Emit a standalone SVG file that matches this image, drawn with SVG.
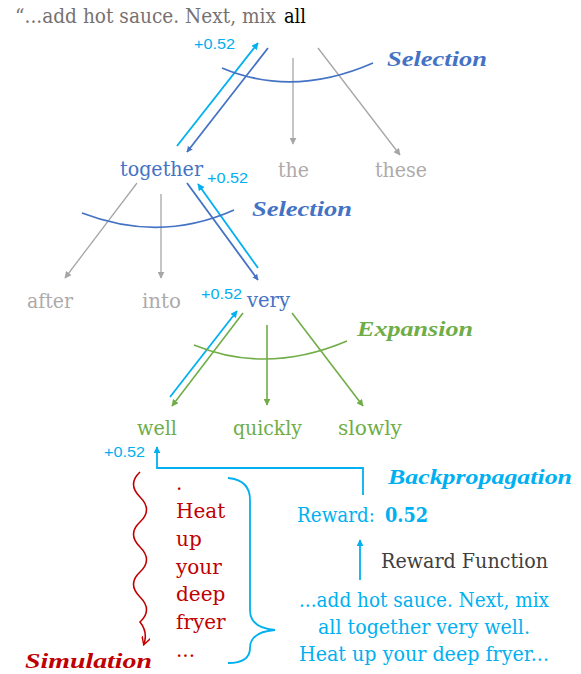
<svg xmlns="http://www.w3.org/2000/svg" width="581" height="674" viewBox="0 0 581 674">
<style>
.w{font-family:"DejaVu Serif","Liberation Serif",serif;font-size:20px}
.n{font-family:"Liberation Sans","Open Sans",sans-serif;font-size:15px;fill:#00B0F0}
.lab{font-family:"Liberation Serif",serif;font-style:italic;font-weight:bold;font-size:20px}
.blue{fill:#4472C4}.gray{fill:#AEAAAA}.green{fill:#70AD47}.red{fill:#C00000}.cyan{fill:#00B0F0}
.lb{stroke:#4472C4;stroke-width:1.8;fill:none}
.lc{stroke:#00B0F0;stroke-width:1.8;fill:none}
.lg{stroke:#A6A6A6;stroke-width:1.3;fill:none}
.lgr{stroke:#70AD47;stroke-width:1.6;fill:none}
</style>
<defs>
<marker id="ab" viewBox="0 0 10 10" refX="9" refY="5" markerWidth="6" markerHeight="6" orient="auto" markerUnits="userSpaceOnUse" ><path d="M0,0L10,5L0,10z" fill="#4472C4"/></marker>
<marker id="ac" viewBox="0 0 10 10" refX="9" refY="5" markerWidth="7" markerHeight="7" orient="auto" markerUnits="userSpaceOnUse"><path d="M0,0L10,5L0,10z" fill="#00B0F0"/></marker>
<marker id="ag" viewBox="0 0 10 10" refX="9" refY="5" markerWidth="7" markerHeight="7" orient="auto" markerUnits="userSpaceOnUse"><path d="M0,0L10,5L0,10z" fill="#A6A6A6"/></marker>
<marker id="agr" viewBox="0 0 10 10" refX="9" refY="5" markerWidth="7" markerHeight="7" orient="auto" markerUnits="userSpaceOnUse"><path d="M0,0L10,5L0,10z" fill="#70AD47"/></marker>
<marker id="ar" viewBox="0 0 10 10" refX="8" refY="5" markerWidth="9" markerHeight="9" orient="auto" markerUnits="userSpaceOnUse"><path d="M0,0L9,5L0,10" fill="none" stroke="#C00000" stroke-width="1.6"/></marker>
</defs>

<g id="prompt">
<text class="w" x="15" y="23" fill="#767171" font-size="18" textLength="261" lengthAdjust="spacingAndGlyphs">“...add hot sauce. Next, mix</text>
<text class="w" x="284" y="23" fill="#000" font-size="18" textLength="22" lengthAdjust="spacingAndGlyphs">all</text>
</g>

<g id="connectors">
<line class="lc" x1="177" y1="146" x2="258" y2="43" marker-end="url(#ac)"/>
<line class="lb" x1="268" y1="48" x2="187" y2="152" marker-end="url(#ab)"/>
<line class="lg" x1="293" y1="58" x2="293" y2="144" marker-end="url(#ag)"/>
<line class="lg" x1="318" y1="48" x2="400" y2="155" marker-end="url(#ag)"/>
<path class="lb" d="M222,68 Q293,98 373,63"/>
<line class="lg" x1="137" y1="183" x2="65" y2="278" marker-end="url(#ag)"/>
<line class="lg" x1="161" y1="194" x2="161" y2="278" marker-end="url(#ag)"/>
<line class="lb" x1="187" y1="183" x2="258" y2="280" marker-end="url(#ab)"/>
<line class="lc" x1="258" y1="268" x2="198" y2="184" marker-end="url(#ac)"/>
<path class="lb" d="M82,213 Q160,243 234,210"/>
<line class="lc" x1="170" y1="397" x2="237" y2="311" marker-end="url(#ac)"/>
<line class="lgr" x1="243" y1="313" x2="172" y2="406" marker-end="url(#agr)"/>
<line class="lgr" x1="267" y1="325" x2="267" y2="405" marker-end="url(#agr)"/>
<line class="lgr" x1="292" y1="313" x2="363" y2="406" marker-end="url(#agr)"/>
<path class="lgr" d="M194,345 Q267,375 347,341"/>
<polyline class="lc" points="363,495 363,468 157,468 157,447" marker-end="url(#ac)"/>
<line class="lc" x1="360" y1="580" x2="360" y2="540" marker-end="url(#ac)"/>
<path d="M140,472 q-13,12 0,25 t0,25 t0,25 t0,25 t0,25 t0,25 q8,10 4,22" fill="none" stroke="#C00000" stroke-width="1.6" marker-end="url(#ar)"/>
<path class="lc" d="M228,478 Q250,480 250,500 L250,610 Q250,628 275,630 Q250,632 250,648 Q250,663 228,663"/>
</g>

<g id="node-together"><text class="w blue" x="120" y="176" textLength="83" lengthAdjust="spacingAndGlyphs">together</text></g>
<g id="node-the"><text class="w gray" x="278" y="177" textLength="31" lengthAdjust="spacingAndGlyphs">the</text></g>
<g id="node-these"><text class="w gray" x="375" y="177" textLength="52" lengthAdjust="spacingAndGlyphs">these</text></g>
<g id="node-after"><text class="w gray" x="27" y="308" textLength="46" lengthAdjust="spacingAndGlyphs">after</text></g>
<g id="node-into"><text class="w gray" x="142" y="308" textLength="39" lengthAdjust="spacingAndGlyphs">into</text></g>
<g id="node-very"><text class="w blue" x="247" y="307" textLength="43" lengthAdjust="spacingAndGlyphs">very</text></g>
<g id="node-well"><text class="w green" x="137" y="435" textLength="40" lengthAdjust="spacingAndGlyphs">well</text></g>
<g id="node-quickly"><text class="w green" x="233" y="435" textLength="69" lengthAdjust="spacingAndGlyphs">quickly</text></g>
<g id="node-slowly"><text class="w green" x="338" y="435" textLength="64" lengthAdjust="spacingAndGlyphs">slowly</text></g>

<g id="scores">
<text class="n" x="194" y="49" textLength="41" lengthAdjust="spacingAndGlyphs">+0.52</text>
<text class="n" x="207" y="183" textLength="41" lengthAdjust="spacingAndGlyphs">+0.52</text>
<text class="n" x="201" y="299" textLength="41" lengthAdjust="spacingAndGlyphs">+0.52</text>
<text class="n" x="104" y="457" textLength="41" lengthAdjust="spacingAndGlyphs">+0.52</text>
</g>

<g id="labels">
<text class="lab blue" x="387" y="66" textLength="100" lengthAdjust="spacingAndGlyphs">Selection</text>
<text class="lab blue" x="252" y="216" textLength="100" lengthAdjust="spacingAndGlyphs">Selection</text>
<text class="lab green" x="357" y="336" textLength="116" lengthAdjust="spacingAndGlyphs">Expansion</text>
<text class="lab cyan" x="388" y="484" textLength="184" lengthAdjust="spacingAndGlyphs">Backpropagation</text>
<text class="lab red" x="25" y="668" textLength="127" lengthAdjust="spacingAndGlyphs">Simulation</text>
</g>

<g id="rollout">
<text class="w red" x="176" y="490">.</text>
<text class="w red" x="176" y="518">Heat</text>
<text class="w red" x="176" y="546">up</text>
<text class="w red" x="176" y="574">your</text>
<text class="w red" x="176" y="601">deep</text>
<text class="w red" x="176" y="629">fryer</text>
<text class="w red" x="176" y="657">...</text>
</g>

<g id="reward">
<text class="w cyan" x="297" y="522" textLength="78" lengthAdjust="spacingAndGlyphs">Reward:</text>
<text class="w cyan" x="385" y="522" font-weight="bold" textLength="43" lengthAdjust="spacingAndGlyphs">0.52</text>
<text class="w" x="381" y="568" fill="#404040" textLength="167" lengthAdjust="spacingAndGlyphs">Reward Function</text>
</g>

<g id="full-text">
<text class="w cyan" x="424" y="607" text-anchor="middle" textLength="250" lengthAdjust="spacingAndGlyphs">...add hot sauce. Next, mix</text>
<text class="w cyan" x="424" y="634" text-anchor="middle" textLength="212" lengthAdjust="spacingAndGlyphs">all together very well.</text>
<text class="w cyan" x="424" y="661" text-anchor="middle" textLength="250" lengthAdjust="spacingAndGlyphs">Heat up your deep fryer...</text>
</g>
</svg>
